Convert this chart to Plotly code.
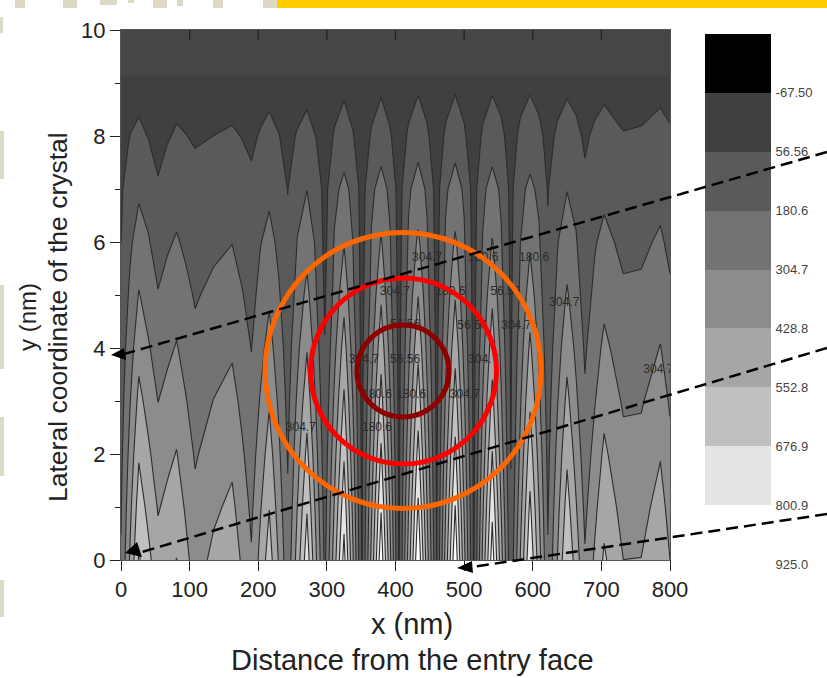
import numpy as np
import plotly.graph_objects as go

W, H = 827, 678
L, R, T, B = 121, 670, 30, 560

y_rows = [0, 1, 2, 3, 4, 5, 6, 7, 8, 9, 10]
level_start, level_end, level_size = -67.5, 800.9, 124.05
cbar_edges = [-191.56, -67.5, 56.56, 180.6, 304.7, 428.8, 552.8, 676.9, 800.9, 925.0]
cbar_mids = [-129.5, -5.5, 118.6, 242.6, 366.7, 490.8, 614.8, 738.9, 862.9]
cbar_ticks = [-67.5, 56.56, 180.6, 304.7, 428.8, 552.8, 676.9, 800.9, 925.0]
cbar_text = ["-67.50", "56.56", "180.6", "304.7", "428.8", "552.8", "676.9", "800.9", "925.0"]
grays = ["#000000", "#404040", "#5a5a5a", "#737373", "#8c8c8c", "#a6a6a6", "#c0c0c0", "#e4e4e4", "#ffffff"]

# value at y = 0, 1, ... 10 for each x position
columns = {
    0: [190,170,150,130,110,90,55,40,25,10,-10],
    13: [441,393,345,297,249,201,160,125,58,9,-10],
    26: [692,616,540,464,388,312,236,160,84,8,-10],
    40: [584,518,450,384,317,250,190,130,52,-1,-10],
    54: [477,419,361,303,245,187,129,71,13,-10,-10],
    67: [516,457,398,339,279,220,165,115,45,0,-10],
    81: [555,495,434,374,313,253,192,132,71,10,-10],
    94: [465,415,364,313,262,212,160,110,59,8,-10],
    108: [375,334,293,252,211,170,129,88,47,6,-10],
    135: [457,407,357,307,257,207,157,107,57,5,-10],
    162: [510,455,399,344,289,233,178,123,68,12,-10],
    176: [413,368,323,279,234,188,144,99,54,8,-10],
    190: [316,282,247,213,178,144,109,75,40,5,-10],
    203: [466,416,365,315,265,215,175,130,64,13,-10],
    216: [615,549,483,417,351,285,219,153,87,21,-10],
    230: [417,372,328,283,238,193,155,120,59,13,-10],
    243: [219,195,172,148,125,101,77,54,30,5,-10],
    257: [484,431,379,326,274,221,185,145,64,10,-10],
    271: [748,667,585,504,422,341,260,178,97,15,-10],
    284: [449,398,346,294,242,190,165,135,55,8,-10],
    297: [150,128,106,84,62,40,25,15,8,0,-10],
    311: [498,442,385,328,272,216,190,155,65,14,-10],
    325: [846,755,664,573,482,391,300,209,118,27,-10],
    338: [443,395,347,299,251,203,180,155,62,11,-10],
    351: [40,35,30,25,20,15,10,5,0,-5,-10],
    365: [463,413,363,313,263,213,190,160,66,13,-10],
    379: [886,791,696,601,506,411,316,221,126,31,-10],
    392: [463,413,363,313,263,213,190,160,66,13,-10],
    405: [40,35,30,25,20,15,10,5,0,-5,-10],
    419: [478,427,375,324,272,221,195,165,70,15,-10],
    433: [916,818,720,622,524,426,328,230,132,34,-10],
    446: [483,430,378,325,273,221,195,165,70,15,-10],
    460: [50,42,35,28,22,16,10,5,0,-5,-10],
    473: [475,423,372,320,269,218,195,165,70,16,-10],
    487: [900,804,708,612,516,420,324,228,132,36,-10],
    500: [470,420,369,319,268,218,195,165,70,16,-10],
    514: [40,35,30,25,20,15,10,5,0,-5,-10],
    527: [454,405,356,308,259,210,185,160,68,15,-10],
    541: [867,775,682,590,497,405,312,220,127,35,-10],
    554: [479,422,367,318,269,220,190,165,76,23,-10],
    568: [90,68,52,45,40,35,30,25,20,10,-10],
    582: [438,385,336,291,247,203,180,155,74,24,-10],
    596: [785,702,619,536,453,370,287,204,121,38,-10],
    609: [488,436,385,333,282,230,195,160,78,24,-10],
    622: [190,170,150,130,110,90,70,50,30,10,-10],
    636: [432,387,341,296,250,205,175,145,70,23,-10],
    650: [674,603,532,461,390,319,248,177,106,35,-10],
    663: [496,440,385,329,278,227,190,150,78,25,-10],
    676: [317,277,237,197,165,134,104,74,44,14,-10],
    690: [445,395,345,295,249,203,170,130,70,23,-10],
    704: [572,512,452,392,332,272,212,152,92,32,-10],
    732: [429,383,337,291,245,199,153,107,61,15,-10],
    758: [431,385,340,294,248,203,157,111,65,20,-10],
    786: [532,476,421,365,309,254,198,142,86,31,-10],
    800: [429,383,337,291,245,199,153,107,69,15,-10],
}
x_cols = list(columns.keys())
z = np.array(list(columns.values()), dtype=float).T

label_x = [446, 528, 602, 399, 480, 560, 646, 512, 576, 414, 354, 414, 528, 783, 373, 423, 501, 262, 373]
label_y = [5.70, 5.70, 5.70, 5.06, 5.06, 5.06, 4.85, 4.42, 4.42, 4.43, 3.77, 3.77, 3.77, 3.58, 3.11, 3.11, 3.11, 2.49, 2.49]
label_text = ["304.7", "180.6", "180.6", "304.7", "180.6", "56.56", "304.7", "56.56", "304.7", "56.56",
              "304.7", "56.56", "304.7", "304.7", "180.6", "180.6", "304.7", "304.7", "180.6"]

n = len(grays)
scale = []
for i, c in enumerate(grays):
    scale += [[i / n, c], [(i + 1) / n, c]]
zmin, zmax = cbar_edges[0], cbar_edges[-1]

fig = go.Figure()
common = dict(x=x_cols, y=y_rows, z=z, zmin=zmin, zmax=zmax, zauto=False,
              contours_start=level_start, contours_end=level_end, contours_size=level_size,
              autocontour=False, hoverinfo="skip", showscale=False, line_smoothing=0)
fig.add_trace(go.Contour(colorscale=scale, contours_coloring="fill", line_width=0,
                         contours_showlines=False, **common))
fig.add_trace(go.Contour(contours_coloring="none", line_color="#2c2c2c", line_width=1.1, **common))
fig.add_trace(go.Scatter(
    x=label_x, y=label_y, text=label_text, mode="text", cliponaxis=True, hoverinfo="skip",
    textfont=dict(family="Liberation Sans", size=12, color="#2a2a2a"), showlegend=False))
fig.add_trace(go.Heatmap(
    x=[0, 1], y=cbar_edges, z=[[m] for m in cbar_mids], zmin=zmin, zmax=zmax, colorscale=scale,
    showscale=False, hoverinfo="skip", xaxis="x2", yaxis="y2"))


def px(x):
    return x / W


def py(y):
    return 1 - y / H


shapes = [
    dict(type="rect", xref="x", yref="y", x0=0, x1=800, y0=9.14, y1=10, layer="above",
         fillcolor="#464646", line_width=0),
]
for tick in range(100, 800, 100):
    shapes.append(dict(type="line", xref="x", yref="paper", x0=tick, x1=tick, y0=py(T), y1=py(T + 10),
                       line=dict(color="#222222", width=1.3)))
for c, (cx, cy, r) in zip(["#ff6600", "#ff0000", "#8e0000"], [(403, 370.5, 138), (403.5, 371, 93), (403, 371, 46)]):
    shapes.append(dict(type="circle", xref="paper", yref="paper", x0=px(cx - r), x1=px(cx + r),
                       y0=py(cy + r), y1=py(cy - r), line=dict(color=c, width=5)))
for (x0, y0, x1, y1) in [(827, 152, 124, 354), (827, 348, 142, 552), (827, 514, 472, 567)]:
    shapes.append(dict(type="line", xref="paper", yref="paper", x0=px(x0), y0=py(y0), x1=px(x1), y1=py(y1),
                       line=dict(color="#000000", width=2.5, dash="12px,6px")))
for tri in [[(111, 355), (124, 348), (126, 360)], [(125, 553), (137, 542), (142, 557)], [(457, 568), (472, 561), (473, 573)]]:
    path = "M " + " L ".join(f"{px(a):.4f} {py(b):.4f}" for a, b in tri) + " Z"
    shapes.append(dict(type="path", xref="paper", yref="paper", path=path, fillcolor="#000000", line_width=0))
shapes.append(dict(type="rect", xref="paper", yref="paper", x0=px(277), x1=px(827), y0=py(8), y1=py(0),
                   fillcolor="#ffcc00", line_width=0))
for (a, b, c, d) in [(15, 0, 25, 8), (63, 0, 77, 8), (100, 0, 117, 5), (128, 0, 134, 3), (153, 0, 167, 8),
                     (177, 0, 183, 6), (213, 0, 223, 8), (263, 0, 277, 8), (0, 17, 3, 33), (0, 131, 4, 179),
                     (0, 285, 4, 369), (0, 417, 4, 476), (0, 580, 4, 617)]:
    shapes.append(dict(type="rect", xref="paper", yref="paper", x0=px(a), x1=px(c), y0=py(d), y1=py(b),
                       fillcolor="#dcd9c4", line_width=0))

font_h = dict(family="Liberation Sans", size=29, color="#222222")
font_v = dict(family="Liberation Sans", size=26.5, color="#222222")
annotations = [
    dict(text="x (nm)", x=px(412), y=py(624), font=font_h),
    dict(text="Distance from the entry face", x=px(412), y=py(660), font=font_h),
    dict(text="y (nm)", x=px(27), y=py(317), textangle=-90, font=dict(font_v, size=24)),
    dict(text="Lateral coordinate of the crystal", x=px(58), y=py(317), textangle=-90, font=font_v),
]
for a in annotations:
    a.update(xref="paper", yref="paper", showarrow=False, xanchor="center", yanchor="middle")

axis_font = dict(family="Liberation Sans", size=22, color="#222222")
fig.update_layout(
    width=W, height=H, paper_bgcolor="white", plot_bgcolor="white", showlegend=False,
    margin=dict(l=0, r=0, t=0, b=0, autoexpand=False),
    shapes=shapes, annotations=annotations,
    xaxis=dict(domain=[L / W, R / W], range=[0, 800], tick0=0, dtick=100, ticks="outside", ticklen=10,
               tickwidth=1.3, tickcolor="#222222", showgrid=False, zeroline=False, showline=True,
               linecolor="#555555", linewidth=1, mirror=True, tickfont=axis_font),
    yaxis=dict(domain=[1 - B / H, 1 - T / H], range=[0, 10], tick0=0, dtick=2, ticks="outside", ticklen=10,
               tickwidth=1.3, tickcolor="#222222", showgrid=False, zeroline=False, showline=True,
               linecolor="#555555", linewidth=1, mirror=True, tickfont=axis_font,
               minor=dict(dtick=1, ticks="outside", ticklen=5, tickwidth=1.3, tickcolor="#222222", showgrid=False)),
    xaxis2=dict(domain=[705 / W, 771 / W], range=[0, 1], visible=False, anchor="y2"),
    yaxis2=dict(domain=[1 - 564 / H, 1 - 34 / H], range=[925, -191.56], anchor="x2", side="right",
                tickmode="array", tickvals=cbar_ticks, ticktext=cbar_text, ticks="outside", ticklen=1,
                tickcolor="rgba(0,0,0,0)", showgrid=False, zeroline=False, showline=False,
                tickfont=dict(family="Liberation Sans", size=13, color="#444444")),
)
fig.write_html("out.html", config=dict(displayModeBar=False),
               post_script="document.body.style.margin='0';document.documentElement.style.margin='0';")
